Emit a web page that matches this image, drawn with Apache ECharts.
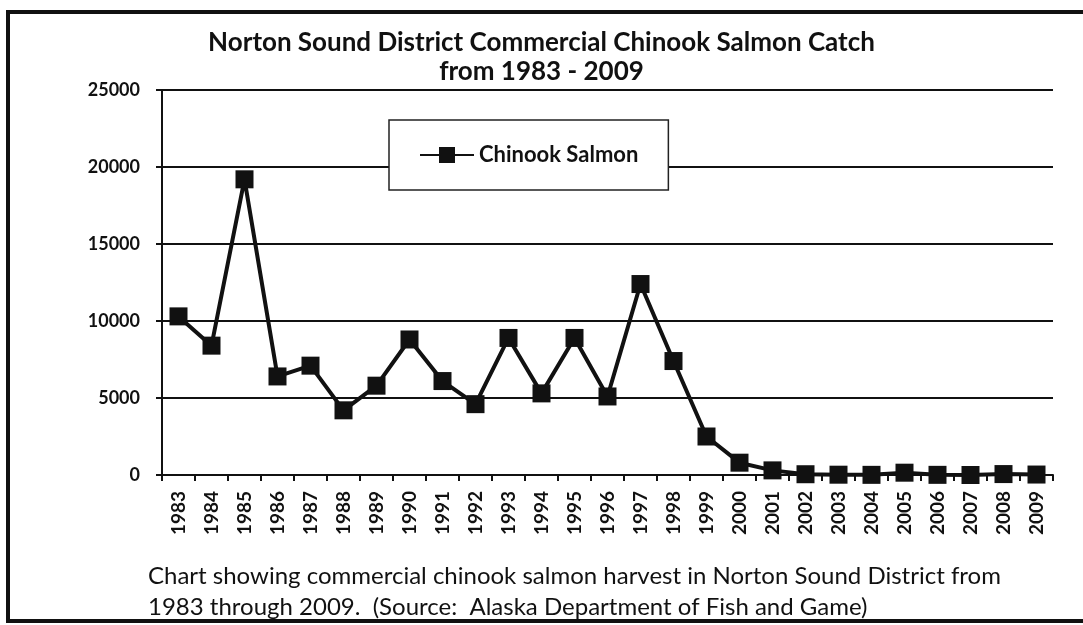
<!DOCTYPE html>
<html><head><meta charset="utf-8">
<script src="https://cdn.jsdelivr.net/npm/echarts@6/dist/echarts.min.js"></script>
<style>html,body{margin:0;padding:0;background:#fff}#c{width:1083px;height:625px}</style>
</head><body><div id="c"></div>
<script>
const years = ['1983','1984','1985','1986','1987','1988','1989','1990','1991','1992','1993','1994','1995','1996','1997','1998','1999','2000','2001','2002','2003','2004','2005','2006','2007','2008','2009'];
const chinook = [10300,8400,19200,6400,7100,4200,5800,8800,6100,4600,8900,5300,8900,5100,12400,7400,2500,800,300,50,20,10,150,10,0,60,30];
const yTicks = [0,5000,10000,15000,20000,25000];
const titleLines = ['Norton Sound District Commercial Chinook Salmon Catch','from 1983 - 2009'];
const captionLines = ['Chart showing commercial chinook salmon harvest in Norton Sound District from','1983 through 2009.  (Source:  Alaska Department of Fish and Game)'];
const FONT = 'Lato, "Open Sans", sans-serif';
const chart = echarts.init(document.getElementById('c'));
chart.setOption({
  animation:false,
  backgroundColor:'#fff',
  title:{text:titleLines.join('\n'),left:'center',top:23,
    textStyle:{fontFamily:FONT,fontSize:26,fontWeight:'bold',color:'#111',lineHeight:29}},
  legend:{left:389,top:120,
    backgroundColor:'#fff',borderColor:'#222',borderWidth:1.5,padding:[24,30,24,30],
    itemWidth:54,itemHeight:20,itemGap:4,
    textStyle:{fontFamily:FONT,fontSize:22,fontWeight:'bold',color:'#111'},
    data:['Chinook Salmon']},
  grid:{left:162,right:30,top:90,bottom:150},
  xAxis:{type:'category',data:years,boundaryGap:true,
    axisLine:{lineStyle:{color:'#111',width:2}},
    axisTick:{show:true,length:6,lineStyle:{color:'#111',width:2}},
    axisLabel:{rotate:90,fontFamily:FONT,fontSize:19,fontWeight:'bold',color:'#111',margin:16}},
  yAxis:{type:'value',min:0,max:25000,interval:5000,
    axisLine:{show:true,lineStyle:{color:'#111',width:2}},
    axisTick:{show:true,length:6,lineStyle:{color:'#111',width:2}},
    splitLine:{lineStyle:{color:'#111',width:2}},
    axisLabel:{fontFamily:FONT,fontSize:18,fontWeight:'bold',color:'#111',margin:22,
      formatter:v=>yTicks.includes(v)?String(v):''}},
  series:[{name:'Chinook Salmon',type:'line',data:chinook,
    symbol:'rect',symbolSize:18,showAllSymbol:true,
    lineStyle:{color:'#111',width:4},
    itemStyle:{color:'#111',borderWidth:0},z:5}],
  graphic:[
    {type:'rect',shape:{x:8,y:12,width:1200,height:609},style:{fill:'none',stroke:'#111',lineWidth:4},silent:true},
    {type:'text',left:148,top:564,style:{text:captionLines[0],font:'24px '+FONT,fill:'#111'}},
    {type:'text',left:148,top:595,style:{text:captionLines[1],font:'24px '+FONT,fill:'#111'}}
  ]
});
</script></body></html>
